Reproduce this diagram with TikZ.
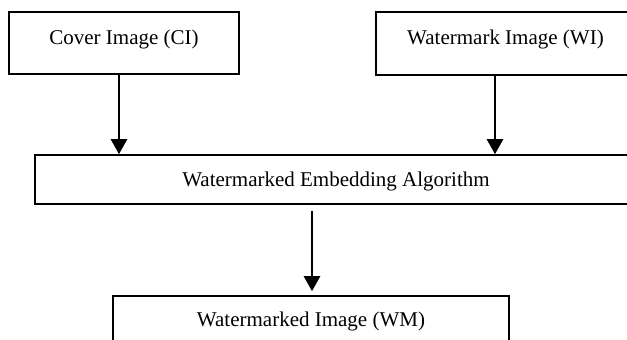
\documentclass[tikz,border=0pt]{standalone}
\usepackage{fontspec}
\setmainfont{Liberation Serif}
\usetikzlibrary{arrows.meta,calc}

\begin{document}
\begin{tikzpicture}[x=1pt,y=-1pt,
  box/.style={draw,line width=1.6pt,inner sep=0pt,font=\fontsize{21}{25}\selectfont},
  arr/.style={line width=2.6pt,-{Triangle[width=16pt,length=15pt]}}]
\useasboundingbox (0,0) rectangle (627,340);
\clip (0,0) rectangle (627,340);

% input images
\node[box,minimum width=230pt,text height=32pt,text depth=30pt] (ci) at (124,43) {Cover Image (CI)};
\node[box,minimum width=259pt,text height=32pt,text depth=31pt] (wi) at (505.5,43.5) {Watermark Image (WI)};

% embedding step
\node[box,minimum width=602pt,text height=31pt,text depth=18pt] (emb) at (336,179.5) {Watermarked Embedding Algorithm};

% output image
\node[box,minimum width=396pt,text height=30pt,text depth=40pt] (wm) at (311,331) {Watermarked Image (WM)};

\coordinate (ciout) at ($(ci.south)+(-5,0)$);
\coordinate (wiout) at ($(wi.south)+(-10.5,0)$);
\coordinate (embout) at ($(emb.south -| wm.north)+(1,6)$);
\coordinate (wmin) at ($(wm.north)+(1,-4)$);

\draw[arr] (ciout) -- (ciout |- emb.north);
\draw[arr] (wiout) -- (wiout |- emb.north);
\draw[arr] (embout) -- (wmin);
\end{tikzpicture}
\end{document}
